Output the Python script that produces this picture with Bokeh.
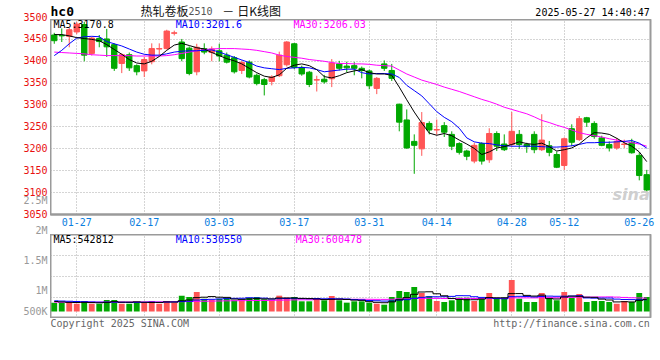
from bokeh.plotting import figure
from bokeh.models import Range1d, FixedTicker, Label
from bokeh.layouts import column, row
from bokeh.embed import file_html
from bokeh.resources import INLINE

# ---------------- data ----------------
dates = ["01-22", "01-23", "01-24", "01-27", "02-05", "02-06", "02-07", "02-10", "02-11", "02-12",
         "02-13", "02-14", "02-17", "02-18", "02-19", "02-20", "02-21", "02-24", "02-25", "02-26",
         "02-27", "02-28", "03-03", "03-04", "03-05", "03-06", "03-07", "03-10", "03-11", "03-12",
         "03-13", "03-14", "03-17", "03-18", "03-19", "03-20", "03-21", "03-24", "03-25", "03-26",
         "03-27", "03-28", "03-31", "04-01", "04-02", "04-03", "04-07", "04-08", "04-09", "04-10",
         "04-11", "04-14", "04-15", "04-16", "04-17", "04-18", "04-21", "04-22", "04-23", "04-24",
         "04-25", "04-28", "04-29", "04-30", "05-06", "05-07", "05-08", "05-09", "05-12", "05-13",
         "05-14", "05-15", "05-16", "05-19", "05-20", "05-21", "05-22", "05-23", "05-26", "05-27"]

date_ticks = ["01-27", "02-17", "03-03", "03-17", "03-31", "04-14", "04-28", "05-12", "05-26"]

opens = [3460, 3459, 3457, 3467, 3484, 3418, 3452, 3451, 3438, 3395,
         3415, 3390, 3378, 3399, 3428, 3429, 3464, 3444, 3430, 3376,
         3429, 3420, 3424, 3414, 3408, 3379, 3398, 3368, 3358, 3354,
         3367, 3392, 3440, 3386, 3375, 3357, 3359, 3360, 3394, 3389,
         3390, 3384, 3378, 3338, 3394, 3379, 3302, 3266, 3217, 3200,
         3258, 3243, 3253, 3233, 3212, 3195, 3172, 3212, 3175, 3235,
         3211, 3210, 3233, 3210, 3233, 3198, 3207, 3187, 3162, 3246,
         3221, 3271, 3258, 3225, 3210, 3202, 3210, 3215, 3185, 3141]
closes = [3447, 3458, 3472, 3485, 3414, 3453, 3445, 3433, 3384, 3415,
          3385, 3376, 3404, 3429, 3429, 3469, 3465, 3406, 3372, 3432,
          3421, 3428, 3412, 3398, 3376, 3397, 3364, 3349, 3347, 3364,
          3414, 3444, 3386, 3371, 3347, 3358, 3353, 3396, 3384, 3385,
          3384, 3379, 3344, 3361, 3384, 3361, 3261, 3202, 3208, 3260,
          3243, 3244, 3238, 3206, 3192, 3183, 3208, 3172, 3235, 3206,
          3198, 3240, 3210, 3205, 3198, 3220, 3192, 3158, 3223, 3215,
          3269, 3261, 3228, 3208, 3202, 3217, 3211, 3191, 3139, 3106]
highs = [3465, 3475, 3476, 3490, 3490, 3456, 3460, 3474, 3441, 3418,
         3420, 3393, 3410, 3441, 3441, 3472, 3470, 3451, 3434, 3440,
         3441, 3434, 3440, 3420, 3412, 3402, 3402, 3372, 3362, 3368,
         3422, 3446, 3442, 3390, 3378, 3367, 3369, 3405, 3401, 3399,
         3398, 3388, 3381, 3364, 3402, 3394, 3303, 3290, 3233, 3284,
         3263, 3267, 3261, 3240, 3215, 3198, 3214, 3215, 3247, 3240,
         3233, 3284, 3243, 3214, 3240, 3279, 3218, 3194, 3226, 3256,
         3275, 3273, 3263, 3230, 3217, 3225, 3221, 3223, 3192, 3152]
lows = [3440, 3444, 3432, 3462, 3400, 3413, 3432, 3410, 3378, 3373,
        3378, 3368, 3364, 3393, 3414, 3427, 3459, 3400, 3368, 3368,
        3416, 3400, 3400, 3395, 3372, 3371, 3361, 3345, 3322, 3345,
        3364, 3388, 3382, 3367, 3341, 3331, 3349, 3341, 3379, 3375,
        3368, 3361, 3336, 3325, 3378, 3355, 3240, 3200, 3143, 3184,
        3233, 3232, 3227, 3197, 3187, 3174, 3167, 3164, 3168, 3195,
        3195, 3204, 3200, 3191, 3190, 3195, 3183, 3156, 3152, 3206,
        3218, 3250, 3223, 3206, 3194, 3198, 3202, 3189, 3128, 3099]

ma5 = [3461, 3461, 3458, 3454, 3452, 3450, 3447, 3438, 3427, 3416,
       3404, 3396, 3394, 3400, 3411, 3425, 3437, 3441, 3436, 3431,
       3428, 3420, 3413, 3406, 3401, 3394, 3384, 3374, 3366, 3363,
       3369, 3384, 3391, 3394, 3390, 3381, 3365, 3362, 3367, 3374,
       3378, 3381, 3374, 3371, 3371, 3368, 3341, 3312, 3284, 3259,
       3236, 3231, 3235, 3230, 3220, 3211, 3201, 3187, 3193, 3202,
       3205, 3210, 3216, 3212, 3210, 3213, 3205, 3195, 3198, 3202,
       3211, 3225, 3237, 3236, 3233, 3224, 3214, 3206, 3193, 3170.8]
ma10 = [3413, 3425, 3440, 3453, 3456, 3457, 3456, 3445, 3440, 3435,
        3428, 3421, 3416, 3414, 3414, 3417, 3421, 3423, 3424, 3424,
        3425, 3426, 3421, 3415, 3409, 3403, 3397, 3389, 3385, 3383,
        3381, 3384, 3385, 3386, 3385, 3381, 3376, 3378, 3380, 3382,
        3382, 3374, 3371, 3372, 3372, 3371, 3363, 3345, 3333, 3321,
        3303, 3285, 3272, 3262, 3247, 3225, 3216, 3213, 3212, 3209,
        3207, 3206, 3206, 3206, 3206, 3205, 3204, 3204, 3205, 3207,
        3210, 3214, 3214, 3215, 3215, 3216, 3217, 3219, 3213, 3201.6]
ma30 = [3421, 3420, 3419, 3418, 3417, 3415, 3414, 3413, 3413, 3413,
        3413, 3412, 3412, 3412, 3412, 3413, 3415, 3418, 3421, 3424,
        3427, 3428, 3429, 3429, 3429, 3428, 3427, 3425, 3422, 3419,
        3414, 3411, 3409, 3407, 3404, 3402, 3400, 3397, 3395, 3395,
        3394, 3394, 3393, 3391, 3390, 3389, 3380, 3371, 3364, 3357,
        3352, 3347, 3341, 3336, 3331, 3325, 3319, 3313, 3308, 3302,
        3295, 3290, 3285, 3280, 3273, 3265, 3260, 3254, 3249, 3243,
        3237, 3233, 3230, 3227, 3223, 3220, 3217, 3214, 3211, 3206.03]

volume = [398000, 398000, 428000, 353000, 473000, 353000, 353000, 518000, 518000, 353000,
          353000, 428000, 428000, 473000, 353000, 473000, 398000, 713000, 653000, 878000,
          578000, 533000, 578000, 608000, 503000, 503000, 623000, 653000, 548000, 503000,
          713000, 623000, 653000, 458000, 458000, 608000, 503000, 698000, 503000, 398000,
          458000, 458000, 398000, 353000, 308000, 653000, 923000, 878000, 1103000, 833000,
          698000, 473000, 428000, 503000, 623000, 623000, 473000, 578000, 833000, 578000,
          623000, 1418000, 578000, 428000, 428000, 833000, 623000, 503000, 878000, 623000,
          788000, 428000, 473000, 473000, 428000, 353000, 473000, 428000, 833000, 653000]

vma5 = [450000, 430000, 410000, 405000, 410000, 401000, 392000, 410000, 443000, 419000,
        419000, 434000, 416000, 407000, 407000, 431000, 425000, 482000, 518000, 623000,
        644000, 671000, 644000, 635000, 560000, 545000, 563000, 578000, 566000, 566000,
        608000, 608000, 608000, 590000, 581000, 560000, 536000, 545000, 554000, 542000,
        512000, 503000, 443000, 413000, 395000, 434000, 527000, 623000, 773000, 878000,
        887000, 797000, 707000, 587000, 545000, 530000, 530000, 560000, 626000, 617000,
        617000, 806000, 806000, 725000, 695000, 737000, 578000, 563000, 653000, 692000,
        683000, 644000, 638000, 557000, 518000, 431000, 440000, 431000, 503000, 542812]
vma10 = [480000, 470000, 460000, 450000, 440000, 430000, 420000, 420000, 420000, 415000,
         410000, 413000, 413000, 425000, 413000, 425000, 430000, 449000, 463000, 515000,
         538000, 548000, 563000, 577000, 592000, 595000, 617000, 611000, 601000, 563000,
         577000, 586000, 593000, 578000, 574000, 584000, 572000, 577000, 572000, 562000,
         536000, 520000, 494000, 484000, 469000, 473000, 515000, 533000, 593000, 637000,
         661000, 662000, 665000, 680000, 712000, 709000, 664000, 634000, 607000, 581000,
         574000, 668000, 683000, 676000, 656000, 677000, 692000, 685000, 689000, 694000,
         710000, 611000, 601000, 605000, 605000, 557000, 542000, 535000, 530000, 530550]
vma30 = [420000, 420000, 420000, 420000, 421000, 422000, 422000, 423000, 424000, 425000,
         426000, 427000, 428000, 430000, 432000, 435000, 438000, 442000, 448000, 455000,
         462000, 468000, 474000, 480000, 485000, 489000, 492000, 495000, 497000, 498000,
         508000, 516000, 523000, 527000, 526000, 535000, 540000, 546000, 545000, 547000,
         550000, 551000, 550000, 546000, 545000, 551000, 568000, 574000, 589000, 587000,
         591000, 589000, 584000, 581000, 585000, 589000, 584000, 581000, 591000, 593000,
         590000, 617000, 614000, 613000, 612000, 620000, 624000, 617000, 630000, 637000,
         648000, 647000, 650000, 654000, 658000, 648000, 633000, 618000, 609000, 600478]

price_ticks = [3050, 3100, 3150, 3200, 3250, 3300, 3350, 3400, 3450, 3500]
vol_tick_labels = ["2.5M", "2M", "1.5M", "1M", "500K"]
vol_tick_values = [4995000, 3645000, 2295000, 945000, 0]

header_code = "hc0"
header_name = "热轧卷板"
header_contract = "2510"
header_dash = "－"
header_kind = "日K线图"
header_time = "2025-05-27 14:40:47"
copyright_text = "Copyright 2025 SINA.COM"
url_text = "http://finance.sina.com.cn"

# ---------------- styles / geometry ----------------
UP = "#ff5555"
DOWN = "#00a800"
GRID = "#aaaaaa"
BORDER = "#9a9a9a"
MONO = "DejaVu Sans Mono"
CJK = "Noto Sans CJK SC"
FS = "10px"

LEFT_W = 50        # width of the left label strip
PLOT_W = 610       # width of the plotting column (frame 600 + 10 right border)
HEAD_H = 19
MAIN_FRAME_H = 195
DATE_BAND = 20
VOL_FRAME_H = 84
FOOT_H = 360 - HEAD_H - MAIN_FRAME_H - DATE_BAND - VOL_FRAME_H

TOP_TICK_PX = 17                 # page row of the 3500 level
PPX = 450 / 197.0                # price units per pixel
VOL_LO, VOL_HI = -315000, 3465000


def price_at(py):
    return price_ticks[-1] - (py - TOP_TICK_PX) * PPX


N = len(dates)
idx = list(range(N))
colors = [UP if c >= o else DOWN for o, c in zip(opens, closes)]
body_lo = [min(o, c) for o, c in zip(opens, closes)]
body_hi = [max(o, c) for o, c in zip(opens, closes)]
tick_idx = [dates.index(d) for d in date_ticks]

xr = Range1d(-0.5, N - 0.5)


def label(p, x, y, text, color="#000000", align="left", size=FS, font=MONO, style="normal",
          baseline="middle", y_range_name="default", y_offset=0):
    p.add_layout(Label(x=x, y=y, text=text, text_color=color, text_align=align,
                       text_baseline=baseline, text_font=font, text_font_size=size,
                       text_font_style=style, y_range_name=y_range_name, y_offset=y_offset))


def base_fig(height, y_range, x_axis=None, bottom=0):
    p = figure(width=PLOT_W, height=height, x_range=xr, y_range=y_range,
               output_backend="svg", toolbar_location=None,
               x_axis_location=x_axis, y_axis_location=None,
               min_border_left=0, min_border_right=10, min_border_top=0, min_border_bottom=bottom)
    p.background_fill_color = "white"
    p.border_fill_color = "white"
    return p


def style_panel(p):
    p.outline_line_color = BORDER
    p.outline_line_width = 2
    p.xgrid.ticker = FixedTicker(ticks=tick_idx[:-1])
    for g in p.xgrid + p.ygrid:
        g.grid_line_color = GRID
        g.grid_line_dash = "1 2"
        g.grid_line_width = 1


# ---------------- header ----------------
ph = base_fig(HEAD_H, Range1d(HEAD_H, 0))
ph.outline_line_color = None
ph.xgrid.visible = False
ph.ygrid.visible = False
label(ph, -0.5, 10.5, header_code, size="13px", style="bold")
label(ph, 11.5, 10, header_name, size="12px", font=CJK, color="#111111")
label(ph, 17.9, 10.5, header_contract, size="10px", font=MONO, color="#555555")
label(ph, 22.4, 10, header_dash, size="12px", font=CJK, color="#111111")
label(ph, 24.4, 10, header_kind, size="12px", font=CJK, color="#111111")
label(ph, 79.4, 11.5, header_time, align="right")

# ---------------- main price panel ----------------
main_yr = Range1d(price_at(HEAD_H + MAIN_FRAME_H), price_at(HEAD_H))
p1 = base_fig(MAIN_FRAME_H + DATE_BAND, main_yr, x_axis="below", bottom=DATE_BAND)
style_panel(p1)
p1.ygrid.ticker = FixedTicker(ticks=price_ticks[1:-1] + [main_yr.end])
ax = p1.xaxis[0]
ax.ticker = FixedTicker(ticks=tick_idx)
ax.major_label_overrides = {i: dates[i] for i in tick_idx}
ax.major_label_text_color = "#0a7ee0"
ax.major_label_text_font = MONO
ax.major_label_text_font_size = FS
ax.major_label_standoff = 3
ax.axis_line_color = BORDER
ax.axis_line_width = 2
ax.major_tick_in = ax.major_tick_out = ax.minor_tick_in = ax.minor_tick_out = 0

p1.segment(x0=idx, y0=lows, x1=idx, y1=highs, color=colors, line_width=1)
p1.vbar(x=idx, width=0.72, bottom=body_lo, top=body_hi, fill_color=colors, line_color=colors, line_width=1)
p1.line(idx, ma30, color="#ff00ff", line_width=1)
p1.line(idx, ma10, color="#0000ff", line_width=1)
p1.line(idx, ma5, color="#000000", line_width=1)

label(p1, -0.1, price_at(24), "MA5:%s" % ma5[-1])
label(p1, 16.2, price_at(24), "MA10:%s" % ma10[-1], color="#0000ff")
label(p1, 31.9, price_at(24), "MA30:%s" % ma30[-1], color="#ff00ff")
label(p1, 79.4, price_at(194), "sina", color="#cfcfcf", align="right", size="16px",
      font="DejaVu Sans", style="bold italic")

# ---------------- volume panel ----------------
p2 = base_fig(VOL_FRAME_H, Range1d(VOL_LO, VOL_HI))
style_panel(p2)
p2.ygrid.ticker = FixedTicker(ticks=[VOL_HI - k * (VOL_HI - VOL_LO) / 4 for k in range(4)])

p2.vbar(x=idx, width=0.78, bottom=0, top=volume, fill_color=colors, line_color=None)
p2.step(idx, vma30, mode="center", color="#ff00ff", line_width=1)
p2.step(idx, vma10, mode="center", color="#0000ff", line_width=1)
p2.step(idx, vma5, mode="center", color="#000000", line_width=1)

vpx = (VOL_HI - VOL_LO) / VOL_FRAME_H
label(p2, -0.1, VOL_HI - 5 * vpx, "MA5:%d" % vma5[-1])
label(p2, 16.2, VOL_HI - 5 * vpx, "MA10:%d" % vma10[-1], color="#0000ff")
label(p2, 32.2, VOL_HI - 5 * vpx, "MA30:%d" % vma30[-1], color="#ff00ff")

# ---------------- footer ----------------
pf = base_fig(FOOT_H, Range1d(FOOT_H, 0))
pf.outline_line_color = None
pf.xgrid.visible = False
pf.ygrid.visible = False
label(pf, -0.5, 5, copyright_text, color="#666666")
label(pf, 79.4, 5, url_text, color="#666666", align="right")

# ---------------- left strip with the value-axis labels ----------------
vol_top = HEAD_H + MAIN_FRAME_H + DATE_BAND


def vol_at(py):
    return VOL_HI - (py - vol_top) * vpx


ls = figure(width=LEFT_W, height=360, x_range=Range1d(0, LEFT_W),
            y_range=Range1d(price_at(360), price_at(0)),
            output_backend="svg", toolbar_location=None,
            x_axis_location=None, y_axis_location=None,
            min_border_left=0, min_border_right=0, min_border_top=0, min_border_bottom=0)
ls.extra_y_ranges = {"vol": Range1d(vol_at(360), vol_at(0))}
ls.outline_line_color = None
ls.xgrid.visible = False
ls.ygrid.visible = False
for t in price_ticks:
    label(ls, 47, t, str(t), color="#e81010", align="right", y_offset=1)
for v, t in zip(vol_tick_values, vol_tick_labels):
    label(ls, 47, v, t, color="#999999", align="right", y_range_name="vol")

layout = row(ls, column(ph, p1, p2, pf, spacing=0), spacing=0)
open("out.html", "w").write(file_html(layout, INLINE))
